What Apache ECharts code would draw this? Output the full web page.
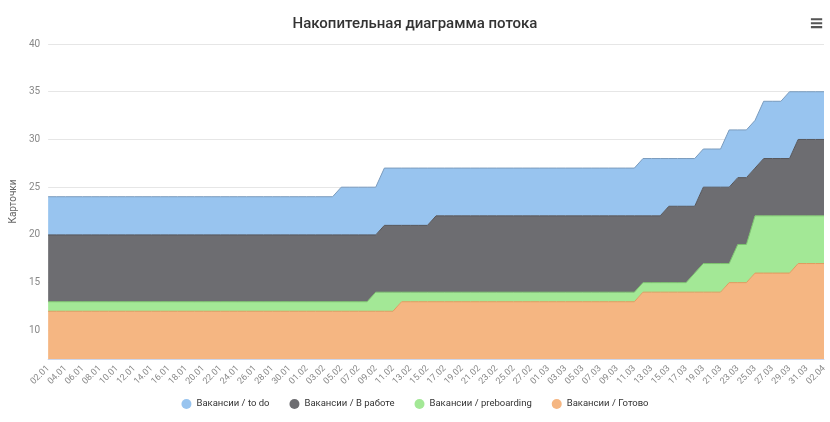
<!DOCTYPE html>
<html>
<head>
<meta charset="utf-8">
<script src="https://cdn.jsdelivr.net/npm/echarts@6/dist/echarts.min.js"></script>
<style>
html, body { margin: 0; padding: 0; background: #fff; }
#panel { width: 830px; height: 422px; }
#menu { position: absolute; right: 6px; top: 12px; font: bold 18px 'DejaVu Sans'; color: #555; }
</style>
</head>
<body>
<div id="panel"></div>
<div id="menu">&#8801;</div>
<script>
// day labels 02.01 .. 02.04
var days = [];
(function () {
    var d = new Date(2021, 0, 2);
    for (var i = 0; i < 91; i++) {
        var dd = ('0' + d.getDate()).slice(-2), mm = ('0' + (d.getMonth() + 1)).slice(-2);
        days.push(dd + '.' + mm);
        d.setDate(d.getDate() + 1);
    }
})();

// cumulative top of each band, as [day index, value] change points
var doneSteps = [[0, 12], [41, 13], [69, 14], [79, 15], [82, 16], [87, 17]];
var preboardSteps = [[0, 13], [38, 14], [69, 15], [75, 16], [76, 17], [80, 19], [82, 22]];
var workSteps = [[0, 20], [39, 21], [45, 22], [72, 23], [76, 25], [80, 26], [82, 27], [83, 28], [87, 30]];
var todoSteps = [[0, 24], [34, 25], [39, 27], [69, 28], [76, 29], [79, 31], [82, 32], [83, 34], [86, 35]];

function expand(steps) {
    var out = [], k = 0;
    for (var i = 0; i < days.length; i++) {
        while (k + 1 < steps.length && steps[k + 1][0] <= i) k++;
        out.push(steps[k][1]);
    }
    return out;
}
var done = expand(doneSteps), preboard = expand(preboardSteps),
    work = expand(workSteps), todo = expand(todoSteps);
function diff(a, b) { return a.map(function (v, i) { return v - b[i]; }); }

var names = ['Вакансии / to do', 'Вакансии / В работе', 'Вакансии / preboarding', 'Вакансии / Готово'];

function band(name, data, fill, line) {
    return {
        name: name, type: 'line', stack: 'flow', data: data, symbol: 'none',
        lineStyle: { color: line, width: 1 }, itemStyle: { color: fill },
        areaStyle: { color: fill, opacity: 1 }
    };
}

var myChart = echarts.init(document.getElementById('panel'));
myChart.setOption({
    animation: false,
    title: {
        text: 'Накопительная диаграмма потока', left: 'center', top: 12,
        textStyle: { fontFamily: 'Roboto', fontSize: 15, fontWeight: 500, color: '#333' }
    },
    grid: { left: 46, right: 6, top: 44, bottom: 63 },
    legend: {
        data: names, bottom: 8, icon: 'circle', itemWidth: 10, itemHeight: 10, itemGap: 20,
        textStyle: { fontFamily: 'Roboto', fontSize: 9.5, color: '#333' }
    },
    xAxis: {
        type: 'category', data: days, boundaryGap: false,
        axisLine: { lineStyle: { color: '#ccd6eb' } }, axisTick: { show: false },
        axisLabel: { interval: 1, rotate: 45, fontFamily: 'Roboto', fontSize: 9, color: '#888' }
    },
    yAxis: {
        type: 'value', min: 7, max: 40, splitNumber: 7,
        name: 'Карточки', nameLocation: 'middle', nameGap: 30,
        nameTextStyle: { fontFamily: 'Roboto', fontSize: 10, color: '#666' },
        axisLabel: { showMinLabel: false, fontFamily: 'Roboto', fontSize: 10, color: '#888' },
        splitLine: { lineStyle: { color: '#e6e6e6' } }
    },
    series: [
        band(names[3], done, '#f5b682', '#e09a5e'),
        band(names[2], diff(preboard, done), '#a3e896', '#7cc46e'),
        band(names[1], diff(work, preboard), '#6d6d71', '#555559'),
        band(names[0], diff(todo, work), '#98c4ef', '#7a9bbd')
    ]
});
</script>
</body>
</html>
